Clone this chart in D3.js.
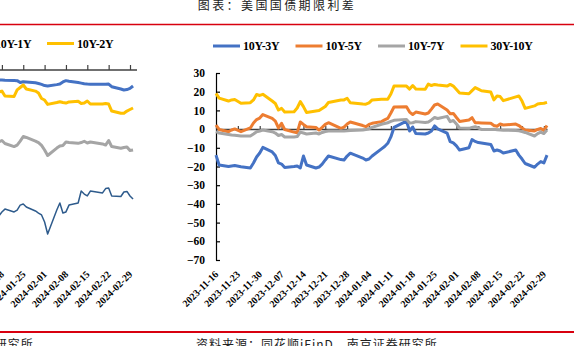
<!DOCTYPE html>
<html>
<head>
<meta charset="utf-8">
<script src="https://cdn.jsdelivr.net/npm/d3@7"></script>
<style>
  html, body { margin: 0; padding: 0; background: #fff; }
  svg { display: block; }
</style>
</head>
<body>
<svg id="chart" width="574" height="346"></svg>
<script>
// ---- data -------------------------------------------------------------
const titleText = "图表：美国国债期限利差";
const sourceText = "资料来源：同花顺iFinD，南京证券研究所";

const tradeDays = [
  "2023-11-16","2023-11-17","2023-11-20","2023-11-21","2023-11-22","2023-11-24","2023-11-27","2023-11-28","2023-11-29","2023-11-30",
  "2023-12-01","2023-12-04","2023-12-05","2023-12-06","2023-12-07","2023-12-08","2023-12-11","2023-12-12","2023-12-13","2023-12-14",
  "2023-12-15","2023-12-18","2023-12-19","2023-12-20","2023-12-21","2023-12-22","2023-12-26","2023-12-27","2023-12-28","2023-12-29",
  "2024-01-02","2024-01-03","2024-01-04","2024-01-05","2024-01-08","2024-01-09","2024-01-10","2024-01-11","2024-01-12","2024-01-16",
  "2024-01-17","2024-01-18","2024-01-19","2024-01-22","2024-01-23","2024-01-24","2024-01-25","2024-01-26","2024-01-29","2024-01-30",
  "2024-01-31","2024-02-01","2024-02-02","2024-02-05","2024-02-06","2024-02-07","2024-02-08","2024-02-09","2024-02-12","2024-02-13",
  "2024-02-14","2024-02-15","2024-02-16","2024-02-20","2024-02-21","2024-02-22","2024-02-23","2024-02-26","2024-02-27","2024-02-28",
  "2024-02-29","2024-03-01"
];

// right panel spreads, bp
const s10y3y = [
  -13.9,-19.2,-20.0,-19.7,-19.5,-20.1,-20.8,-18.1,-14.9,-12.8,
  -9.8,-12.2,-14.1,-18.1,-18.7,-20.5,-20.0,-19.7,-20.8,-14.4,
  -19.2,-20.8,-20.3,-18.7,-16.5,-14.4,-16.3,-16.5,-14.4,-12.9,
  -15.5,-16.5,-16.0,-14.4,-10.6,-9.3,-7.6,-4.2,0.9,4.3,
  -1.0,1.1,-2.4,-2.6,-2.1,-1.0,1.7,0.1,-2.1,-6.7,
  -7.4,-9.0,-11.2,-10.0,-5.6,-6.6,-7.2,-7.4,-8.2,-11.7,
  -11.2,-11.7,-12.8,-11.2,-13.9,-16.0,-18.4,-20.4,-18.7,-17.4,
  -18.1,-13.9
];
const s10y5y = [
  2.2,-0.2,-1.4,-0.5,0.1,-1.4,0.6,3.3,5.1,5.9,
  7.8,5.7,4.3,0.6,3.1,-0.2,-1.6,-1.9,3.8,2.5,
  1.3,0.9,-0.5,0.9,2.5,3.4,0.4,1.1,2.7,3.8,
  1.9,1.3,2.5,3.1,4.0,4.9,5.7,8.6,11.8,12.0,
  9.1,7.8,9.1,8.1,8.6,10.7,12.9,13.4,10.2,8.2,
  8.4,6.2,4.1,4.9,6.1,3.4,3.4,3.3,3.1,1.9,
  1.5,2.7,2.2,2.7,1.9,0.6,-0.5,-1.0,-0.2,0.3,
  -0.7,1.9
];
const s10y7y = [
  -1.4,-2.1,-2.9,-3.2,-3.3,-3.7,-3.7,-2.6,-1.4,-1.0,
  -0.5,-1.4,-2.1,-3.4,-2.9,-4.2,-4.2,-4.0,-1.6,-2.1,
  -2.6,-2.1,-2.6,-1.8,-1.3,-1.0,-1.0,-1.0,-0.9,-0.7,
  -0.5,-0.2,0.2,0.9,2.6,3.0,3.4,4.1,4.7,5.2,
  3.3,3.4,4.0,3.5,3.8,4.9,6.2,5.7,6.8,4.0,
  4.6,2.7,0.6,0.4,0.9,1.3,0.6,-0.2,-0.2,-0.1,
  -0.3,-0.5,-0.6,-0.7,-0.9,-1.3,-1.8,-3.7,-2.4,-1.6,
  -2.4,-0.5
];
const s30y10y = [
  19.1,16.6,15.0,15.6,15.8,13.8,14.1,15.6,18.5,18.0,
  18.6,15.0,13.7,10.2,11.1,9.1,9.3,11.3,14.7,12.0,
  8.9,9.7,9.9,11.0,12.1,14.2,15.6,15.6,16.5,14.1,
  13.4,13.3,14.0,15.6,15.9,15.9,15.9,18.8,23.0,23.0,
  21.4,23.3,21.4,21.3,24.1,23.3,23.9,23.6,23.0,23.9,
  23.0,21.2,19.3,18.9,20.6,22.2,21.4,20.5,19.8,15.6,
  17.7,17.4,15.2,17.2,17.7,15.0,11.1,12.4,13.4,13.7,
  13.8,14.3
];

// left panel (visible tail of the series), bp
const leftDays = tradeDays.slice(tradeDays.indexOf("2024-01-17"));
const leftBlue = [
  -5.3,-5.3,-5.4,-5.5,-5.6,-6.6,-6.2,-6.3,-6.7,-7.1,-7.6,-8.2,-8.4,-7.7,-7.4,-6.3,
  -5.6,-5.9,-6.6,-6.9,-7.2,-7.4,-7.5,-7.5,-7.5,-7.4,-8.8,-10.0,-10.5,-10.3,-9.7,-8.4
];
const s10y2y = [
  -11.6,-11.1,-13.7,-13.9,-10.5,-9.2,-7.9,-10.0,-11.1,-12.1,-15.0,-15.8,-18.1,-17.1,-16.7,-17.1,
  -17.4,-16.8,-16.5,-17.6,-17.4,-16.3,-17.9,-17.9,-17.6,-17.9,-21.6,-22.8,-22.8,-21.6,-20.8,-20.0
];
const leftGray = [
  -37.9,-37.1,-38.7,-40.3,-39.5,-37.4,-35.0,-35.5,-37.4,-38.2,-39.7,-42.1,-45.0,-41.1,-40.0,-39.7,
  -37.9,-38.2,-38.6,-38.2,-37.5,-38.4,-37.9,-38.9,-39.5,-37.1,-40.3,-41.2,-40.8,-40.5,-42.4,-42.1
];
const leftNavy = [
  -76.8,-74.7,-73.2,-74.7,-73.7,-71.1,-70.5,-72.1,-74.2,-75.3,-76.3,-80.0,-86.3,-73.7,-70.0,-75.3,
  -74.7,-71.1,-70.0,-63.7,-65.3,-66.3,-63.7,-64.7,-62.4,-62.1,-66.3,-66.6,-64.2,-63.9,-66.3,-67.9
];

const tickDates = [
  "2023-11-16","2023-11-23","2023-11-30","2023-12-07","2023-12-14","2023-12-21","2023-12-28","2024-01-04",
  "2024-01-11","2024-01-18","2024-01-25","2024-02-01","2024-02-08","2024-02-15","2024-02-22","2024-02-29"
];
const yTicks = [30, 20, 10, 0, -10, -20, -30, -40, -50, -60, -70];

const rightLegend = [
  { label: "10Y-3Y",  color: "#4472C4" },
  { label: "10Y-5Y",  color: "#ED7D31" },
  { label: "10Y-7Y",  color: "#A5A5A5" },
  { label: "30Y-10Y", color: "#FFC000" }
];

// ---- drawing ----------------------------------------------------------
const svg = d3.select("#chart");
const parse = d3.utcParse("%Y-%m-%d");
const serif = "'Liberation Serif','Times New Roman',serif";
const cjk = "'Noto Sans CJK SC','Noto Sans CJK JP',sans-serif";
const red = "#d8000f";

// header / footer
svg.append("text")
  .attr("x", 277).attr("y", 9.5)
  .attr("text-anchor", "middle")
  .attr("font-family", cjk).attr("font-size", 12)
  .attr("letter-spacing", 2.4).attr("fill", "#222")
  .text(titleText);
svg.append("line").attr("x1", 0).attr("x2", 574).attr("y1", 24.5).attr("y2", 24.5)
  .attr("stroke", red).attr("stroke-width", 1.5);
svg.append("line").attr("x1", 0).attr("x2", 574).attr("y1", 332).attr("y2", 332)
  .attr("stroke", red).attr("stroke-width", 2);
[-208, 196].forEach(x0 => {
  svg.append("text")
    .attr("x", x0).attr("y", 349)
    .attr("font-family", cjk).attr("font-size", 12)
    .attr("letter-spacing", 1).attr("fill", "#222")
    .text(sourceText);
});

function dateLabels(xScale) {
  const g = svg.append("g");
  tickDates.forEach(d => {
    const x = xScale(parse(d));
    g.append("text")
      .attr("transform", `translate(${x + 3},${275}) rotate(-45)`)
      .attr("text-anchor", "end")
      .attr("font-family", serif).attr("font-weight", "bold")
      .attr("font-size", 10).attr("fill", "#000")
      .text(d);
  });
}

function legendItem(x, y, color, label) {
  svg.append("line").attr("x1", x).attr("x2", x + 27).attr("y1", y).attr("y2", y)
    .attr("stroke", color).attr("stroke-width", 3);
  if (label) {
    svg.append("text").attr("x", x + 30).attr("y", y + 4)
      .attr("font-family", serif).attr("font-weight", "bold")
      .attr("font-size", 12).attr("letter-spacing", -0.3).attr("fill", "#000")
      .text(label);
  }
}

// ---------- right panel ----------
const xR = d3.scaleUtc()
  .domain([parse("2023-11-16"), parse("2024-03-01")])
  .range([216, 547]);
const yR = d3.scaleLinear().domain([-70, 30]).range([260, 73]);

const yAxisR = d3.axisLeft(yR)
  .tickValues(yTicks)
  .tickSizeInner(-4).tickSizeOuter(0).tickPadding(11)
  .tickFormat(d3.format("d"));
const gy = svg.append("g").attr("transform", "translate(216,0)").call(yAxisR);
gy.select(".domain").attr("stroke", "#000").attr("stroke-width", 1.2);
gy.selectAll(".tick line").attr("stroke", "#000").attr("stroke-width", 1.2);
gy.selectAll(".tick text")
  .attr("font-family", serif).attr("font-weight", "bold")
  .attr("font-size", 11.5).attr("fill", "#000");

const xAxisR = d3.axisBottom(xR)
  .tickValues(tickDates.map(parse))
  .tickSizeInner(-3).tickSizeOuter(0).tickFormat("");
const gx = svg.append("g").attr("transform", `translate(0,${yR(0)})`).call(xAxisR);
gx.select(".domain").attr("stroke", "#404040").attr("stroke-width", 1.5);
gx.selectAll(".tick line").attr("stroke", "#404040").attr("stroke-width", 1.2);
dateLabels(xR);

const lineR = d3.line()
  .x((d, i) => xR(parse(tradeDays[i])))
  .y(d => yR(d));
[[s10y3y, "#4472C4"], [s10y5y, "#ED7D31"], [s10y7y, "#A5A5A5"], [s30y10y, "#FFC000"]]
  .forEach(([vals, color]) => {
    svg.append("path").datum(vals)
      .attr("d", lineR)
      .attr("fill", "none").attr("stroke", color)
      .attr("stroke-width", 3).attr("stroke-linejoin", "round");
  });

rightLegend.forEach((it, i) => legendItem(213 + i * 82.5, 46, it.color, it.label));

// ---------- left panel (its left part lies outside the view) ----------
const xL = d3.scaleUtc()
  .domain([parse("2023-11-16"), parse("2024-03-01")])
  .range([-190.25, 133.05]);
const yL = d3.scaleLinear().domain([-100, 0]).range([260, 70]);

const xAxisL = d3.axisBottom(xL)
  .tickValues(tickDates.map(parse))
  .tickSizeInner(-5).tickSizeOuter(0).tickFormat("");
const gxl = svg.append("g").attr("transform", `translate(0,${yL(0)})`).call(xAxisL);
gxl.select(".domain").attr("stroke", "#404040").attr("stroke-width", 1.5)
  .attr("d", `M${xL.range()[0]},0H137`);
gxl.selectAll(".tick line").attr("stroke", "#404040").attr("stroke-width", 1.2);
dateLabels(xL);

const lineL = d3.line()
  .x((d, i) => xL(parse(leftDays[i])))
  .y(d => yL(d));
[[leftBlue, "#4472C4", 3], [s10y2y, "#FFC000", 3], [leftGray, "#A5A5A5", 3], [leftNavy, "#2E5B8C", 1.5]]
  .forEach(([vals, color, w]) => {
    svg.append("path").datum(vals)
      .attr("d", lineL)
      .attr("fill", "none").attr("stroke", color)
      .attr("stroke-width", w).attr("stroke-linejoin", "round");
  });

// left legend: only the tail is in view
svg.append("text").attr("x", -5).attr("y", 47.5)
  .attr("font-family", serif).attr("font-weight", "bold")
  .attr("font-size", 12).attr("letter-spacing", -0.3).attr("fill", "#000")
  .text("10Y-1Y");
legendItem(47, 43.5, "#FFC000", "10Y-2Y");
</script>
</body>
</html>
